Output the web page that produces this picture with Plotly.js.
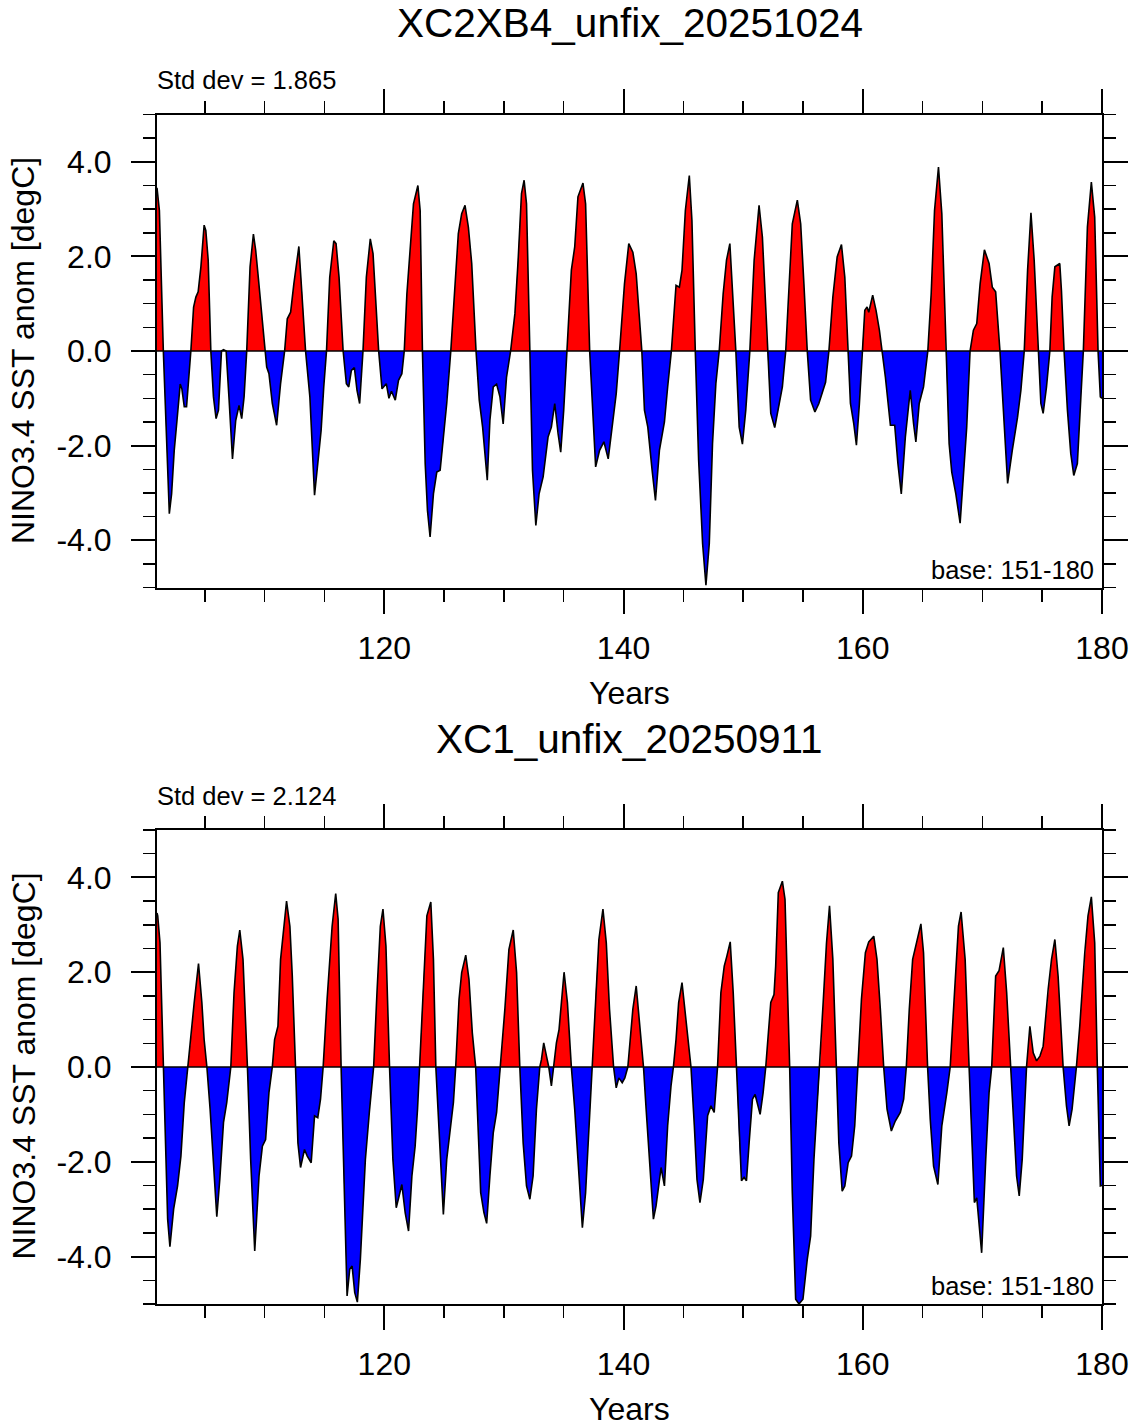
<!DOCTYPE html>
<html><head><meta charset="utf-8">
<script src="https://cdn.plot.ly/plotly-3.0.1.min.js"></script>
<style>html,body{margin:0;padding:0;background:#fff}</style>
</head><body><div id="chart" style="width:1133px;height:1428px"></div>
<script>
// ---- data ----
const panelTitles = ['XC2XB4_unfix_20251024', 'XC1_unfix_20250911'];
const stdDevLabels = ['Std dev = 1.865', 'Std dev = 2.124'];
const baseLabel = 'base: 151-180';
const xTitle = 'Years';
const yTitle = 'NINO3.4 SST anom [degC]';
const xTickVals = [120, 140, 160, 180];
const xTickText = ['120', '140', '160', '180'];
const yTickVals = [-4, -2, 0, 2, 4];
const yTickText = ['-4.0', '-2.0', '0.0', '2.0', '4.0'];

const yearsA = [101.0,101.2,101.53,101.75,102.03,102.22,102.44,102.67,102.94,103.08,103.28,103.47,103.61,103.83,104.06,104.25,104.44,104.67,104.94,105.08,105.28,105.5,105.72,105.94,106.14,106.39,106.56,106.78,107.03,107.31,107.58,107.86,108.08,108.28,108.5,108.78,109.06,109.25,109.44,109.72,110.03,110.17,110.36,110.64,111.0,111.33,111.67,111.89,112.17,112.44,112.86,113.14,113.42,113.78,114.17,114.44,114.72,114.94,115.17,115.44,115.78,115.97,116.22,116.56,116.83,117.03,117.25,117.5,117.72,117.94,118.22,118.5,118.83,119.06,119.25,119.53,119.81,120.17,120.39,120.6,120.92,121.19,121.47,121.67,121.89,122.17,122.44,122.81,123.0,123.19,123.42,123.61,123.83,124.11,124.39,124.67,124.94,125.22,125.56,125.92,126.19,126.47,126.75,127.03,127.31,127.67,127.94,128.22,128.61,128.83,129.11,129.39,129.67,129.94,130.22,130.56,130.92,131.19,131.47,131.69,131.89,132.17,132.39,132.67,132.94,133.28,133.69,133.97,134.25,134.53,134.75,135.0,135.28,135.64,135.92,136.19,136.61,136.83,137.17,137.39,137.67,138.0,138.36,138.72,139.06,139.39,139.67,140.08,140.44,140.78,141.06,141.28,141.53,141.75,142.03,142.39,142.67,143.0,143.42,143.69,144.0,144.39,144.67,144.89,145.17,145.5,145.72,146.0,146.28,146.61,146.89,147.17,147.44,147.72,148.0,148.33,148.61,148.89,149.11,149.39,149.67,149.94,150.22,150.56,150.92,151.33,151.61,152.03,152.31,152.64,152.94,153.28,153.56,153.83,154.11,154.53,154.81,155.08,155.36,155.64,156.0,156.33,156.89,157.17,157.5,157.86,158.22,158.5,158.75,158.97,159.25,159.47,159.72,159.94,160.17,160.36,160.5,160.83,161.11,161.39,161.61,161.89,162.31,162.67,162.94,163.22,163.56,163.97,164.25,164.44,164.72,165.08,165.44,165.72,166.0,166.33,166.61,166.94,167.22,167.44,167.78,168.14,168.42,168.69,168.97,169.25,169.53,169.81,170.17,170.56,170.83,171.11,171.47,171.75,172.11,172.5,172.94,173.22,173.5,173.78,174.06,174.33,174.67,174.89,175.08,175.36,175.64,175.83,176.06,176.47,176.61,176.83,177.11,177.39,177.64,177.94,178.22,178.44,178.78,179.11,179.39,179.67,179.86,180.0];
const ninoA = [3.45,2.97,0,-1.6,-3.44,-3.02,-2.1,-1.47,-0.7,-0.8,-1.18,-1.18,-0.76,0,0.93,1.14,1.25,1.78,2.66,2.55,1.92,0,-0.97,-1.43,-1.25,0,0.03,0,-1.04,-2.28,-1.47,-1.15,-1.43,-0.97,0,1.78,2.47,2.13,1.63,0.93,0,-0.34,-0.48,-1.11,-1.57,-0.69,0,0.68,0.82,1.42,2.21,1.21,0,-0.97,-3.05,-2.38,-1.68,-0.76,0,1.56,2.33,2.27,1.56,0,-0.69,-0.76,-0.41,-0.35,-0.83,-1.11,0,1.56,2.37,2.06,1.14,0,-0.8,-0.69,-1.0,-0.85,-1.04,-0.62,-0.48,0,1.21,2.2,3.11,3.5,2.97,0,-2.38,-3.37,-3.93,-3.02,-2.56,-2.52,-1.89,-1.11,0,1.42,2.48,2.9,3.08,2.62,1.85,0,-1.04,-1.61,-2.73,-1.47,-0.76,-0.7,-0.97,-1.54,-0.55,0,0.79,1.92,3.33,3.61,3.11,0,-2.52,-3.69,-3.02,-2.66,-1.82,-1.61,-1.11,-1.75,-2.14,-1.25,0,1.71,2.2,3.26,3.55,3.11,0,-1.11,-2.45,-2.1,-1.92,-2.28,-1.61,-0.9,0,1.42,2.27,2.09,1.63,0.86,0,-1.25,-1.61,-2.52,-3.16,-2.1,-1.5,-0.76,0,1.39,1.35,1.71,2.97,3.71,2.76,0,-2.31,-4.07,-4.95,-4.07,-1.96,-0.69,0,1.21,1.92,2.27,1.35,0,-1.61,-1.97,-1.25,0,1.92,3.08,2.41,0,-1.32,-1.62,-1.25,-0.76,0,1.21,2.69,3.19,2.69,1.42,0,-1.04,-1.29,-1.11,-0.66,0,1.14,1.99,2.25,1.56,0,-1.11,-1.54,-1.99,-1.11,0,0.86,0.93,0.82,1.18,0.86,0.44,0,-0.55,-1.57,-1.57,-2.38,-3.02,-1.82,-0.83,-1.54,-1.92,-1.11,-0.76,0,1.21,2.97,3.89,2.9,0,-1.96,-2.56,-3.02,-3.64,-2.66,-1.61,0,0.44,0.58,1.42,2.14,1.85,1.35,1.25,0,-1.25,-2.8,-2.1,-1.4,-0.83,0,1.71,2.92,1.92,0,-1.11,-1.32,-0.76,0,1.14,1.78,1.85,1.28,0,-1.25,-2.17,-2.63,-2.38,-1.04,0,2.62,3.57,2.83,0,-0.97,-1.0];

const yearsB = [101.0,101.06,101.25,101.53,101.75,101.89,102.08,102.39,102.72,103.0,103.28,103.56,103.83,104.11,104.47,104.75,104.94,105.17,105.44,105.72,106.0,106.25,106.56,106.83,107.17,107.44,107.72,107.92,108.19,108.56,108.83,109.17,109.53,109.81,110.08,110.36,110.64,110.83,111.11,111.33,111.83,112.11,112.31,112.58,112.78,113.0,113.33,113.56,113.89,114.17,114.44,114.67,114.89,115.22,115.64,115.94,116.14,116.39,116.61,116.89,117.11,117.31,117.53,117.75,118.0,118.42,118.75,119.11,119.39,119.67,119.89,120.14,120.44,120.72,121.0,121.19,121.47,121.75,122.03,122.31,122.58,122.78,122.94,123.22,123.56,123.89,124.11,124.31,124.53,124.72,124.94,125.22,125.5,125.78,125.97,126.25,126.47,126.81,127.08,127.36,127.64,127.86,128.06,128.33,128.56,128.83,129.11,129.39,129.72,130.08,130.42,130.78,131.06,131.33,131.61,131.89,132.17,132.44,132.72,133.0,133.14,133.33,133.56,133.75,133.97,134.17,134.39,134.61,135.03,135.31,135.64,135.92,136.19,136.56,136.83,137.11,137.39,137.67,137.94,138.28,138.56,138.83,139.17,139.39,139.61,139.89,140.11,140.36,140.6,140.78,141.06,141.28,141.47,141.67,141.89,142.17,142.5,142.72,143.14,143.42,143.69,143.97,144.17,144.39,144.61,144.89,145.17,145.44,145.64,145.92,146.14,146.39,146.67,147.03,147.31,147.58,147.86,148.14,148.42,148.64,148.92,149.17,149.44,149.67,149.86,150.08,150.28,150.5,150.78,151.0,151.19,151.42,151.67,151.89,152.11,152.31,152.58,152.72,152.94,153.28,153.5,153.69,153.89,154.11,154.39,154.67,155.0,155.36,155.64,155.92,156.19,156.42,156.69,156.97,157.22,157.5,157.78,158.0,158.28,158.5,158.78,159.06,159.33,159.61,159.89,160.22,160.5,160.92,161.19,161.47,161.75,162.03,162.39,162.72,163.14,163.42,163.64,163.89,164.17,164.53,164.86,165.08,165.42,165.64,165.92,166.28,166.61,167.03,167.31,167.67,168.0,168.22,168.56,168.89,169.17,169.33,169.53,169.94,170.28,170.56,170.78,171.11,171.39,171.75,172.03,172.36,172.64,172.86,173.08,173.33,173.69,173.97,174.25,174.53,174.81,175.08,175.5,175.78,176.06,176.33,176.75,177.03,177.25,177.5,177.86,178.14,178.56,178.83,179.11,179.39,179.61,179.75,179.86,180.0];
const ninoB = [3.25,3.19,2.62,0,-1.95,-3.21,-3.79,-3.0,-2.51,-1.88,-0.75,0,0.58,1.36,2.18,1.36,0.58,0,-0.89,-1.95,-3.16,-2.37,-1.17,-0.75,0,1.57,2.55,2.89,2.27,0,-1.95,-3.88,-2.3,-1.67,-1.53,-0.54,0,0.58,0.86,2.27,3.5,2.97,1.92,0,-1.6,-2.12,-1.74,-1.88,-2.02,-1.03,-1.07,-0.68,0,1.43,2.97,3.66,3.12,0,-2.3,-4.83,-4.27,-4.2,-4.76,-4.96,-4.06,-1.95,-0.96,0,1.57,2.97,3.33,2.55,0,-1.95,-2.97,-2.79,-2.48,-3.08,-3.46,-2.3,-1.67,-0.89,0,1.57,3.19,3.48,2.27,0,-1.1,-1.95,-3.11,-1.95,-1.32,-0.75,0,1.43,1.99,2.36,1.85,0.72,0,-1.24,-2.65,-3.07,-3.3,-2.3,-1.39,-0.96,0,1.22,2.48,2.89,1.99,0,-1.6,-2.51,-2.79,-2.3,-0.89,0,0.16,0.51,0.23,0,-0.4,0,0.51,0.79,2.0,1.36,0,-0.89,-1.95,-3.39,-2.65,-1.24,0,1.57,2.69,3.33,2.62,1.22,0,-0.44,-0.23,-0.33,-0.23,0,0.7,1.22,1.71,1.15,0.51,0,-0.89,-1.95,-3.21,-2.93,-2.12,-2.51,-1.24,-0.4,0,0.58,1.36,1.78,1.15,0.58,0,-1.24,-2.37,-2.86,-2.37,-1.03,-0.82,-0.96,0,1.57,2.13,2.34,2.64,1.57,0,-1.6,-2.4,-2.33,-2.4,-1.6,-0.68,-0.58,-0.75,-1.0,-0.54,0,0.72,1.36,1.53,2.13,3.68,3.92,3.54,1.92,0,-2.65,-4.9,-5.0,-4.9,-4.06,-3.57,-1.95,-0.82,0,1.36,2.62,3.4,2.27,0,-1.6,-2.62,-2.51,-2.02,-1.88,-1.24,0,1.43,2.41,2.64,2.76,2.27,1.22,0,-0.89,-1.35,-1.14,-0.96,-0.68,0,1.22,2.27,2.66,3.02,2.41,0,-1.1,-2.09,-2.48,-1.24,-0.54,0,1.57,2.97,3.27,2.27,0,-1.95,-2.86,-2.76,-3.92,-1.95,-0.54,0,1.92,2.03,2.52,1.57,0,-1.24,-2.3,-2.72,-1.95,0,0.86,0.3,0.13,0.23,0.44,1.64,2.27,2.69,1.92,0,-0.82,-1.24,-0.89,0,0.86,2.41,3.19,3.59,2.62,0,-1.6,-2.51,-2.5];

// ---- rendering ----
const FONT = 'Liberation Sans, Arial, Helvetica, sans-serif';
const W = 1133, H = 1428;

function splitSigns(xs, ys) {
  const px = [], py = [], nx = [], ny = [];
  for (let i = 0; i < xs.length; i++) {
    if (i > 0) {
      const y0 = ys[i - 1], y1 = ys[i];
      if ((y0 > 0 && y1 < 0) || (y0 < 0 && y1 > 0)) {
        const xc = xs[i - 1] + (xs[i] - xs[i - 1]) * (y0 / (y0 - y1));
        px.push(xc); py.push(0); nx.push(xc); ny.push(0);
      }
    }
    px.push(xs[i]); py.push(Math.max(ys[i], 0));
    nx.push(xs[i]); ny.push(Math.min(ys[i], 0));
  }
  return {px, py, nx, ny};
}

function panelTraces(xs, ys, xa, ya) {
  const s = splitSigns(xs, ys);
  return [
    {x: s.px, y: s.py, xaxis: xa, yaxis: ya, type: 'scatter', mode: 'lines', fill: 'tozeroy',
     fillcolor: '#ff0000', line: {width: 0, color: '#ff0000'}, hoverinfo: 'skip'},
    {x: s.nx, y: s.ny, xaxis: xa, yaxis: ya, type: 'scatter', mode: 'lines', fill: 'tozeroy',
     fillcolor: '#0000ff', line: {width: 0, color: '#0000ff'}, hoverinfo: 'skip'},
    {x: xs, y: ys, xaxis: xa, yaxis: ya, type: 'scatter', mode: 'lines',
     line: {width: 1.6, color: '#000000'}}
  ];
}

const xDom = [157 / W, 1102 / W];
const yDom1 = [1 - 587.5 / H, 1 - 114.5 / H];
const yDom2 = [1 - 1304 / H, 1 - 830 / H];

function xAxis(dom, anchor) {
  return {
    domain: dom, anchor: anchor, range: [101, 180],
    tickmode: 'array', tickvals: xTickVals, ticktext: xTickText,
    ticks: 'outside', ticklen: 24, tickwidth: 2, tickcolor: '#000',
    ticklabelstandoff: 7,
    minor: {tickmode: 'linear', tick0: 0, dtick: 5, ticks: 'outside', ticklen: 12, tickwidth: 1.5, tickcolor: '#000', showgrid: false},
    showline: true, linewidth: 2, linecolor: '#000', mirror: 'allticks',
    showgrid: false, zeroline: false,
    tickfont: {family: FONT, size: 32, color: '#000'}, fixedrange: true
  };
}
function yAxis(dom, anchor) {
  return {
    domain: dom, anchor: anchor, range: [-5, 5],
    tickmode: 'array', tickvals: yTickVals, ticktext: yTickText,
    ticks: 'outside', ticklen: 24, tickwidth: 2, tickcolor: '#000',
    ticklabelstandoff: 13,
    minor: {tickmode: 'linear', tick0: 0, dtick: 0.5, ticks: 'outside', ticklen: 12, tickwidth: 1.5, tickcolor: '#000', showgrid: false},
    showline: true, linewidth: 2, linecolor: '#000', mirror: 'allticks',
    showgrid: false, zeroline: false,
    tickfont: {family: FONT, size: 32, color: '#000'}, fixedrange: true
  };
}

function px2x(p) { return p / W; }
function px2y(p) { return 1 - p / H; }

const annotations = [];
const panelTopPx = [114.5, 830];
[0, 1].forEach(i => {
  const off = panelTopPx[i] - 114.5;
  annotations.push({text: panelTitles[i], xref: 'paper', yref: 'paper', x: px2x(630), y: px2y(23 + off),
    xanchor: 'center', yanchor: 'middle', showarrow: false, font: {family: FONT, size: 40.5, color: '#000'}});
  annotations.push({text: stdDevLabels[i], xref: 'paper', yref: 'paper', x: px2x(155), y: px2y(80 + off),
    xanchor: 'left', yanchor: 'middle', showarrow: false, font: {family: FONT, size: 25.5, color: '#000'}});
  annotations.push({text: baseLabel, xref: 'paper', yref: 'paper', x: px2x(1096), y: px2y(570 + off),
    xanchor: 'right', yanchor: 'middle', showarrow: false, font: {family: FONT, size: 25.5, color: '#000'}});
  annotations.push({text: xTitle, xref: 'paper', yref: 'paper', x: px2x(630), y: px2y(693 + off),
    xanchor: 'center', yanchor: 'middle', showarrow: false, font: {family: FONT, size: 32, color: '#000'}});
  annotations.push({text: yTitle, xref: 'paper', yref: 'paper', x: px2x(23), y: px2y(351 + off),
    xanchor: 'center', yanchor: 'middle', textangle: -90, showarrow: false, font: {family: FONT, size: 32, color: '#000'}});
});

const shapes = [
  {type: 'line', xref: 'x', yref: 'y', x0: 101, x1: 180, y0: 0, y1: 0, line: {color: '#000', width: 1.5}, layer: 'above'},
  {type: 'line', xref: 'x2', yref: 'y2', x0: 101, x1: 180, y0: 0, y1: 0, line: {color: '#000', width: 1.5}, layer: 'above'}
];

const data = panelTraces(yearsA, ninoA, 'x', 'y').concat(panelTraces(yearsB, ninoB, 'x2', 'y2'));
const layout = {
  width: W, height: H, margin: {l: 0, r: 0, t: 0, b: 0},
  paper_bgcolor: '#fff', plot_bgcolor: '#fff', showlegend: false,
  font: {family: FONT, color: '#000'},
  xaxis: xAxis(xDom, 'y'), yaxis: yAxis(yDom1, 'x'),
  xaxis2: xAxis(xDom, 'y2'), yaxis2: yAxis(yDom2, 'x2'),
  annotations: annotations, shapes: shapes
};
Plotly.newPlot('chart', data, layout, {displayModeBar: false, staticPlot: true});
</script></body></html>
